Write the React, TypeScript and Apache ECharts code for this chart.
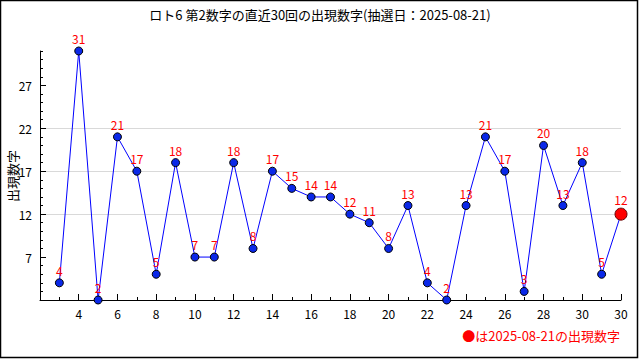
import React, { useEffect, useRef } from "react";
import * as echarts from "echarts";

const titleText = "ロト6 第2数字の直近30回の出現数字(抽選日：2025-08-21)";
const yAxisName = "出現数字";
const noteText = "●は2025-08-21の出現数字";
const xPositions = [3, 4, 5, 6, 7, 8, 9, 10, 11, 12, 13, 14, 15, 16, 17, 18, 19, 20, 21, 22, 23, 24, 25, 26, 27, 28, 29, 30, 31, 32];
const values = [4, 31, 2, 21, 17, 5, 18, 7, 7, 18, 8, 17, 15, 14, 14, 12, 11, 8, 13, 4, 2, 13, 21, 17, 3, 20, 13, 18, 5, 12];
const yMajorLabels = [7, 12, 17, 22, 27];

const FONT = "'Noto Sans CJK JP', 'Noto Sans', sans-serif";

export default function App() {
  const ref = useRef<HTMLDivElement>(null);
  useEffect(() => {
    if (!ref.current) return;
    const chart = echarts.init(ref.current, undefined, { renderer: "svg" });
    const last = values.length - 1;
    const data = values.map((v, i) =>
      i === last
        ? {
            value: [xPositions[i], v],
            symbolSize: 12,
            itemStyle: { color: "#ff0000", borderColor: "#660000", borderWidth: 1 },
          }
        : { value: [xPositions[i], v] }
    );
    chart.setOption({
      animation: false,
      backgroundColor: "#ffffff",
      title: {
        text: titleText,
        left: "center",
        top: 3,
        textStyle: { fontFamily: FONT, fontSize: 13, fontWeight: "normal", color: "#000" },
      },
      grid: { left: 40, right: 19, top: 51, bottom: 60, containLabel: false, outerBoundsMode: "none" },
      xAxis: {
        type: "value",
        min: 2,
        max: 32,
        interval: 2,
        axisLine: { lineStyle: { color: "#000", width: 1 } },
        axisTick: { inside: true, length: 6, lineStyle: { color: "#000" } },
        minorTick: { show: true, splitNumber: 2, length: 3, lineStyle: { color: "#000" } },
        splitLine: { show: false },
        axisLabel: {
          margin: 7,
          color: "#000",
          fontFamily: FONT,
          fontSize: 12,
          showMinLabel: true,
          showMaxLabel: true,
          formatter: (v: number) => (v === 2 ? "" : v === 32 ? "30" : String(v)),
        },
      },
      yAxis: [
        {
          type: "value",
          min: 2,
          max: 31,
          interval: 5,
          axisLine: { show: true, lineStyle: { color: "#000", width: 1 } },
          axisTick: { inside: true, length: 6, lineStyle: { color: "#000" }, customValues: yMajorLabels },
          axisLabel: {
            margin: 8,
            color: "#000",
            fontFamily: FONT,
            fontSize: 12,
            customValues: yMajorLabels,
            formatter: (v: number) => (yMajorLabels.indexOf(v) >= 0 ? String(v) : ""),
          },
          splitLine: {
            show: true,
            showMinLine: false,
            showMaxLine: false,
            lineStyle: { color: ["#d9d9d9", "#d9d9d9", "#d9d9d9", "#d9d9d9", "#d9d9d9", "#d9d9d9", "rgba(0,0,0,0)"], width: 1 },
          },
        },
        {
          type: "value",
          min: 2,
          max: 31,
          interval: 1,
          position: "left",
          axisLine: { show: false },
          axisTick: { show: true, inside: true, length: 3, lineStyle: { color: "#000" } },
          axisLabel: { show: false },
          splitLine: { show: false },
        },
      ],
      series: [
        {
          type: "line",
          data,
          yAxisIndex: 0,
          symbol: "circle",
          symbolSize: 8,
          lineStyle: { color: "#0000ff", width: 1 },
          itemStyle: { color: "#0a28e8", borderColor: "#000", borderWidth: 1 },
          label: {
            show: true,
            position: "top",
            distance: 2,
            color: "#ff0000",
            fontFamily: FONT,
            fontSize: 12,
            formatter: (p: any) => String(p.value[1]),
          },
          z: 3,
        },
      ],
      graphic: [
        {
          type: "text",
          x: 12,
          y: 176,
          rotation: Math.PI / 2,
          style: {
            text: yAxisName,
            fill: "#000",
            font: `13px ${FONT}`,
            align: "center",
            verticalAlign: "middle",
          },
        },
        {
          type: "text",
          right: 20,
          top: 329,
          style: {
            text: noteText,
            fill: "#ff0000",
            font: `13px ${FONT}`,
          },
        },
        {
          type: "rect",
          shape: { x: 0.5, y: 0.5, width: 637, height: 357 },
          style: { fill: "none", stroke: "#000", lineWidth: 1.5 },
          silent: true,
        },
      ],
    });
    return () => chart.dispose();
  }, []);
  return <div ref={ref} style={{ position: "fixed", left: 0, top: 0, width: 640, height: 360 }} />;
}
